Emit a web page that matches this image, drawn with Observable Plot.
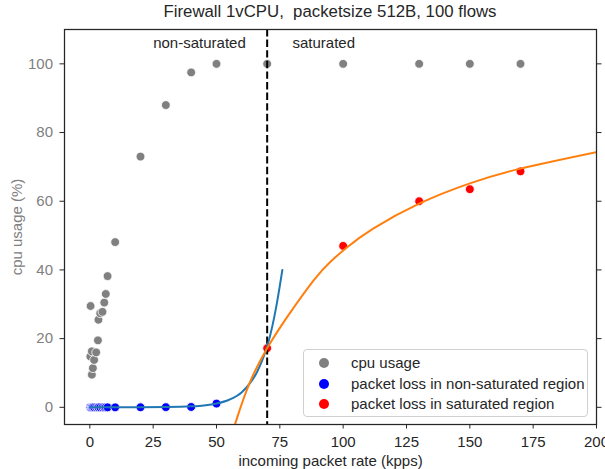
<!DOCTYPE html>
<html><head><meta charset="utf-8">
<script src="https://cdn.jsdelivr.net/npm/d3@7"></script>
<script src="https://cdn.jsdelivr.net/npm/@observablehq/plot@0.6"></script>
<style>
body{margin:0;background:#fff;font-family:"Liberation Sans",Arial,sans-serif;}
#wrap{position:relative;width:605px;height:469px;}
#title{position:absolute;left:64px;width:532px;top:2px;text-align:center;font-size:16.8px;color:#262626;white-space:pre;line-height:20px;}
#legend{position:absolute;left:303px;top:349px;width:285px;height:68px;border:1px solid #d0d0d0;border-radius:4px;background:rgba(255,255,255,0.85);box-sizing:border-box;font-size:15px;color:#262626;}
.row{position:absolute;left:0;height:20px;line-height:20px;white-space:nowrap;}
.row .dot{position:absolute;left:15px;top:5px;width:10px;height:10px;border-radius:50%;}
.row .lab{position:absolute;left:47px;top:0;}
</style></head><body>
<div id="wrap"><div id="title"></div><div id="legend"></div></div>
<script>
// ---- data ----
const chartTitle = "Firewall 1vCPU,  packetsize 512B, 100 flows";
const xLabel = "incoming packet rate (kpps)";
const yLabel = "cpu usage (%)";

const cpuRate  = [0.2, 0.3, 0.8, 0.8, 1.2, 1.7, 2.5, 3.2, 3.4, 4.1, 5.0, 5.7, 6.3, 7, 10, 20, 30, 40, 50, 70, 100, 130, 150, 170];
const cpuUsage = [14.8, 29.5, 16.3, 9.5, 11.4, 13.8, 16, 19.5, 25.5, 27.4, 27.8, 30.5, 33, 38.2, 48.1, 73, 88, 97.5, 100, 100, 100, 100, 100, 100];

const lossNonSatRate = [0.2, 0.3, 0.8, 0.8, 1.2, 1.7, 2.5, 3.2, 3.4, 4.1, 5.0, 5.7, 6.3, 7, 10, 20, 30, 40, 50];
const lossNonSat     = [0, 0, 0, 0, 0, 0, 0, 0, 0, 0, 0, 0, 0, 0, 0, 0.02, 0.05, 0.1, 1.1];

const lossSatRate = [70, 100, 130, 150, 170];
const lossSat     = [17.2, 47, 60, 63.5, 68.7];

const blueFitX = [0, 10, 20, 30, 40, 45, 50, 55, 60, 63, 66, 68, 70, 72, 74, 76];
const blueFitY = [0.0, 0.0, 0.02, 0.07, 0.28, 0.55, 1.1, 2.2, 4.4, 6.8, 10.3, 13.6, 17.7, 23.5, 31, 40];

const orangeFitX = [56, 57.5, 62.8, 70, 78, 88.5, 95, 101.7, 112, 130, 150, 170, 200];
const orangeFitY = [-7.8, -4.5, 6.6, 17.2, 26.4, 37.1, 42.4, 46.7, 52.1, 59.3, 65.2, 69.5, 74.3];

const satThreshold = [70];
const annotLabels = ["non-saturated", "saturated"];
const annotX = [25, 80];
const annotY = [106, 106];

const xTicks = [0, 25, 50, 75, 100, 125, 150, 175, 200];
const yTicks = [0, 20, 40, 60, 80, 100];

const seriesNames = ["cpu usage", "packet loss in non-saturated region", "packet loss in saturated region"];
const seriesColors = ["#808080", "#0000ff", "#ff0000"];

// ---- tables ----
const cpu = cpuRate.map((x, i) => ({x, y: cpuUsage[i]}));
const nonSat = lossNonSatRate.map((x, i) => ({x, y: lossNonSat[i]}));
const sat = lossSatRate.map((x, i) => ({x, y: lossSat[i]}));
const blueFit = blueFitX.map((x, i) => ({x, y: blueFitY[i]}));
const orangeFit = orangeFitX.map((x, i) => ({x, y: orangeFitY[i]}));
const annots = annotLabels.map((t, i) => ({t, x: annotX[i], y: annotY[i]}));

const dark = "#262626";
const plot = Plot.plot({
  width: 605, height: 469,
  marginLeft: 64, marginRight: 9, marginTop: 29, marginBottom: 45,
  style: {fontFamily: "'Liberation Sans', Arial, sans-serif", fontSize: "15px", background: "white", overflow: "visible"},
  x: {domain: [-10, 200]},
  y: {domain: [-5, 110]},
  marks: [
    Plot.dot(cpu, {x: "x", y: "y", r: 4.4, fill: seriesColors[0], stroke: "white", strokeWidth: 0.8}),
    Plot.dot(nonSat, {x: "x", y: "y", r: 4.4, fill: seriesColors[1], stroke: "white", strokeWidth: 0.8}),
    Plot.dot(sat, {x: "x", y: "y", r: 4.4, fill: seriesColors[2], stroke: "white", strokeWidth: 0.8}),
    Plot.ruleX(satThreshold, {stroke: "black", strokeWidth: 2, strokeDasharray: "7.4,3.2"}),
    Plot.line(blueFit, {x: "x", y: "y", stroke: "#1f77b4", strokeWidth: 2, curve: "monotone-x", clip: true}),
    Plot.line(orangeFit, {x: "x", y: "y", stroke: "#ff7f0e", strokeWidth: 2, curve: "natural", clip: true}),
    Plot.text(annots, {x: "x", y: "y", text: "t", textAnchor: "start", fontSize: 15, fill: dark}),
    Plot.frame({stroke: dark, strokeWidth: 1.25}),
    Plot.axisX({ticks: xTicks, tickSize: 4.5, tickPadding: 7, stroke: dark, fill: dark, fontSize: 15,
      label: xLabel, labelAnchor: "center", labelArrow: "none", labelOffset: 41}),
    Plot.axisY({ticks: yTicks, tickSize: 4.5, tickPadding: 7, stroke: dark, fill: "#808080", fontSize: 15,
      label: yLabel, labelAnchor: "center", labelArrow: "none", labelOffset: 53}),
    Plot.axisY({anchor: "right", ticks: yTicks, tickSize: 4.5, stroke: dark, tickFormat: () => "", label: null})
  ]
});
document.getElementById("wrap").prepend(plot);
document.getElementById("title").textContent = chartTitle;

const legend = document.getElementById("legend");
seriesNames.forEach((name, i) => {
  const row = document.createElement("div");
  row.className = "row";
  row.style.top = (3 + i * 20.7) + "px";
  const dot = document.createElement("span");
  dot.className = "dot";
  dot.style.background = seriesColors[i];
  const lab = document.createElement("span");
  lab.className = "lab";
  lab.textContent = name;
  row.append(dot, lab);
  legend.append(row);
});
</script>
</body></html>
